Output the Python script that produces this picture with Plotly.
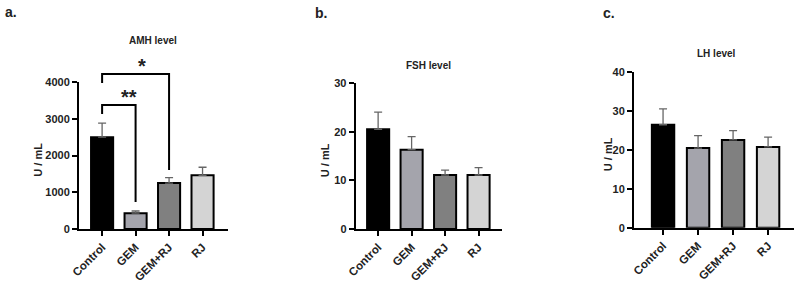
import plotly.graph_objects as go

categories = ["Control", "GEM", "GEM+RJ", "RJ"]
amh_mean = [2500, 430, 1250, 1460]
amh_upper = [2880, 490, 1400, 1680]
fsh_mean = [20.5, 16.3, 11.1, 11.1]
fsh_upper = [24.0, 19.0, 12.1, 12.6]
lh_mean = [26.5, 20.5, 22.6, 20.8]
lh_upper = [30.6, 23.7, 25.0, 23.3]
bar_colors = ["#000000", "#a4a4ac", "#808080", "#d4d4d4"]

W, H = 798, 282
FONT = "Liberation Sans, Arial, sans-serif"

panels = [
    dict(mean=amh_mean, upper=amh_upper, title="AMH level", label="a.",
         xdom=[79/W, 228/W], ydom=[53/H, 200/H], yrange=[0, 4000], dtick=1000,
         xr=[-0.69, 3.76], bw=0.66, title_xy=(153, 41), label_xy=(11, 12), ytitle_x=38),
    dict(mean=fsh_mean, upper=fsh_upper, title="FSH level", label="b.",
         xdom=[355.7/W, 502/W], ydom=[53/H, 199/H], yrange=[0, 30], dtick=10,
         xr=[-0.67, 3.70], bw=0.66, title_xy=(428, 65), label_xy=(321, 13), ytitle_x=325),
    dict(mean=lh_mean, upper=lh_upper, title="LH level", label="c.",
         xdom=[634/W, 794/W], ydom=[54.3/H, 209.7/H], yrange=[0, 40], dtick=10,
         xr=[-0.83, 3.74], bw=0.64, title_xy=(716, 54), label_xy=(609, 13), ytitle_x=608),
]

fig = go.Figure()
annotations = []
shapes = []
for i, p in enumerate(panels):
    sfx = "" if i == 0 else str(i + 1)
    err = [u - m for u, m in zip(p["upper"], p["mean"])]
    fig.add_trace(go.Bar(
        x=list(range(len(categories))), y=p["mean"], width=p["bw"],
        marker=dict(color=bar_colors, line=dict(color="black", width=2)),
        error_y=dict(type="data", symmetric=False, array=err, arrayminus=[0]*len(err),
                     color="#666666", thickness=1.3, width=4),
        xaxis="x" + sfx, yaxis="y" + sfx, showlegend=False, hoverinfo="skip",
    ))
    axis_common = dict(showline=True, linecolor="black", linewidth=2, ticks="outside",
                       tickcolor="black", tickwidth=2, showgrid=False, zeroline=False,
                       automargin=False)
    fig.update_layout(**{
        "xaxis" + sfx: dict(domain=p["xdom"], range=p["xr"], tickmode="array",
                            tickvals=list(range(len(categories))), ticktext=categories,
                            tickangle=-45, ticklen=5, anchor="y" + sfx,
                            tickfont=dict(family=FONT, size=11.5, color="#222", weight="bold"),
                            **axis_common),
        "yaxis" + sfx: dict(domain=p["ydom"], range=p["yrange"], dtick=p["dtick"],
                            ticklen=5, anchor="x" + sfx,
                            tickfont=dict(family=FONT, size=11, color="#222", weight="bold"),
                            **axis_common),
    })
    tx, ty = p["title_xy"]
    annotations.append(dict(text="<b>" + p["title"] + "</b>", x=tx / W, y=1 - ty / H,
                            xref="paper", yref="paper", showarrow=False,
                            font=dict(family=FONT, size=10, color="#222"),
                            xanchor="center", yanchor="middle"))
    lx, ly = p["label_xy"]
    annotations.append(dict(text="<b>" + p["label"] + "</b>", x=lx / W, y=1 - ly / H,
                            xref="paper", yref="paper", showarrow=False,
                            font=dict(family=FONT, size=14, color="#222"),
                            xanchor="center", yanchor="middle"))
    annotations.append(dict(text="<b>U / mL</b>", x=p["ytitle_x"] / W,
                            y=(p["ydom"][0] + p["ydom"][1]) / 2 - 0.015,
                            xref="paper", yref="paper", showarrow=False, textangle=-90,
                            font=dict(family=FONT, size=11, color="#222"),
                            xanchor="center", yanchor="middle"))

# significance brackets (panel a), positioned via data->paper mapping
pa = panels[0]


def px_(cat):
    x0, x1 = pa["xr"]
    d0, d1 = pa["xdom"]
    return d0 + (cat - x0) / (x1 - x0) * (d1 - d0)


def py_(val):
    y0, y1 = pa["yrange"]
    d0, d1 = pa["ydom"]
    return d0 + (val - y0) / (y1 - y0) * (d1 - d0)


brackets = [
    # (left cat, right cat, top value, left leg end value, right leg end value, label)
    (0, 1, 3374, 3129, 735, "**"),
    (0, 2, 4218, 3973, 1605, "*"),
]
for lc, rc, top, lend, rend, lab in brackets:
    xs = [px_(lc), px_(lc), px_(rc), px_(rc)]
    ys = [py_(lend), py_(top), py_(top), py_(rend)]
    path = "M {} {} L {} {} L {} {} L {} {}".format(xs[0], ys[0], xs[1], ys[1], xs[2], ys[2], xs[3], ys[3])
    shapes.append(dict(type="path", path=path, xref="paper", yref="paper",
                       line=dict(color="black", width=2)))
    annotations.append(dict(text="<b>" + lab + "</b>", x=(xs[0] + xs[2]) / 2,
                            y=py_(top) + 8 / H,
                            xref="paper", yref="paper", showarrow=False, yanchor="middle",
                            font=dict(family=FONT, size=20, color="#222")))

fig.update_layout(width=W, height=H, margin=dict(l=0, r=0, t=0, b=0, autoexpand=False),
                  paper_bgcolor="white", plot_bgcolor="white",
                  annotations=annotations, shapes=shapes, bargap=0)
fig.write_html("out.html", config={"displayModeBar": False, "staticPlot": True},
               post_script="document.body.style.margin='0';document.body.style.overflow='hidden';")
